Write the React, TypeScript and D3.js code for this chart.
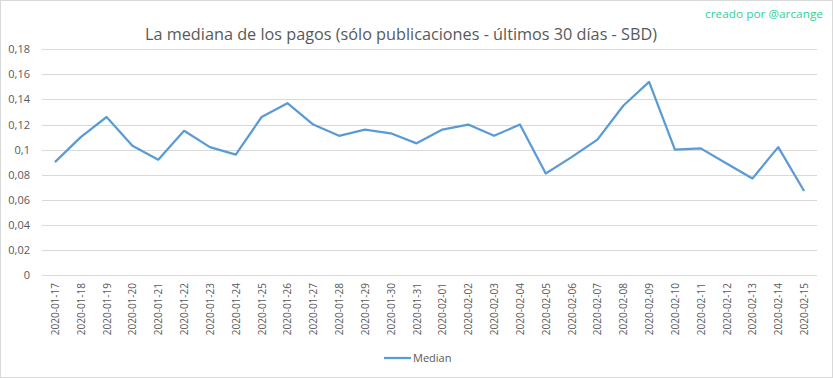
import React from "react";
import * as d3 from "d3";

const dates = [
  "2020-01-17","2020-01-18","2020-01-19","2020-01-20","2020-01-21","2020-01-22","2020-01-23","2020-01-24","2020-01-25","2020-01-26",
  "2020-01-27","2020-01-28","2020-01-29","2020-01-30","2020-01-31","2020-02-01","2020-02-02","2020-02-03","2020-02-04","2020-02-05",
  "2020-02-06","2020-02-07","2020-02-08","2020-02-09","2020-02-10","2020-02-11","2020-02-12","2020-02-13","2020-02-14","2020-02-15",
];
const median = [
  0.090, 0.110, 0.126, 0.103, 0.092, 0.115, 0.102, 0.096, 0.126, 0.137,
  0.120, 0.111, 0.116, 0.113, 0.105, 0.116, 0.120, 0.111, 0.120, 0.081,
  0.094, 0.108, 0.135, 0.154, 0.100, 0.101, 0.089, 0.077, 0.102, 0.067,
];
const yTicks = [0, 0.02, 0.04, 0.06, 0.08, 0.1, 0.12, 0.14, 0.16, 0.18];
const title = "La mediana de los pagos (sólo publicaciones - últimos 30 días - SBD)";
const credit = "creado por @arcange";
const seriesName = "Median";

const W = 833, H = 378;
const FONT = "'Open Sans', 'Liberation Sans', sans-serif";

export default function App() {
  const x = d3.scaleBand().domain(dates).range([42, 817]);
  const y = d3.scaleLinear().domain([0, 0.18]).range([275, 49.3]);
  const line = d3.line<number>()
    .x((_, i) => (x(dates[i]) as number) + x.bandwidth() / 2)
    .y((d) => y(d));
  const fmt = (v: number) => (v === 0 ? "0" : String(+v.toFixed(2)).replace(".", ","));
  return (
    <svg width={W} height={H} style={{ position: "absolute", left: 0, top: 0, background: "#fff" }} fontFamily={FONT}>
      <rect x={0.5} y={0.5} width={W - 1} height={H - 1} fill="#fff" stroke="#d9d9d9" />
      <text x={401} y={40} textAnchor="middle" fontSize={16.5} fill="#595959" textLength={512} lengthAdjust="spacingAndGlyphs">{title}</text>
      <text x={823} y={18} textAnchor="end" fontSize={11.5} fill="#2fcf9c" textLength={118} lengthAdjust="spacingAndGlyphs">{credit}</text>
      {yTicks.map((t) => (
        <g key={t}>
          <line x1={42} x2={817} y1={Math.round(y(t)) + 0.5} y2={Math.round(y(t)) + 0.5} stroke="#d9d9d9" />
          <text x={30} y={y(t) + 4} textAnchor="end" fontSize={11} fill="#595959">{fmt(t)}</text>
        </g>
      ))}
      {dates.map((d) => {
        const cx = (x(d) as number) + x.bandwidth() / 2;
        return (
          <text key={d} transform={`translate(${cx + 4},283) rotate(-90)`} textAnchor="end" fontSize={10} fill="#595959">{d}</text>
        );
      })}
      <path d={line(median) || ""} fill="none" stroke="#5b9bd5" strokeWidth={2.25} strokeLinejoin="round" />
      <line x1={384} x2={411} y1={358} y2={358} stroke="#5b9bd5" strokeWidth={2.25} />
      <text x={413} y={362} fontSize={11} fill="#595959">{seriesName}</text>
    </svg>
  );
}
